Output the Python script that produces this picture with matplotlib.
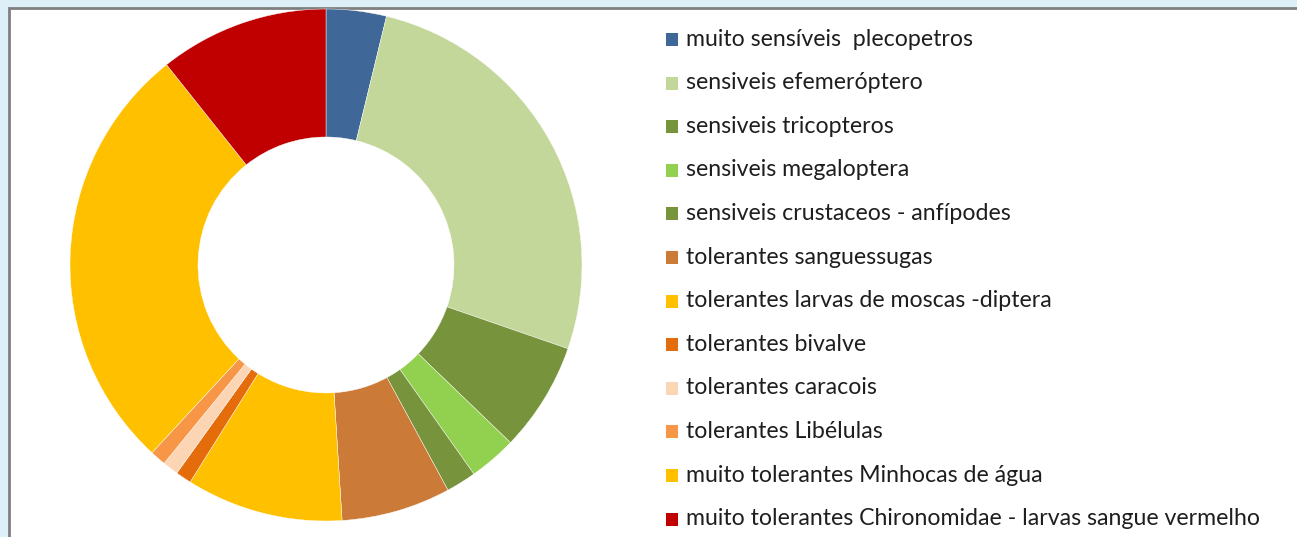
import matplotlib
matplotlib.use("Agg")
import matplotlib.pyplot as plt
from matplotlib.patches import Rectangle

labels = [
    "muito sensíveis  plecopetros",
    "sensiveis efemeróptero",
    "sensiveis tricopteros",
    "sensiveis megaloptera",
    "sensiveis crustaceos - anfípodes",
    "tolerantes sanguessugas",
    "tolerantes larvas de moscas -diptera",
    "tolerantes bivalve",
    "tolerantes caracois",
    "tolerantes Libélulas",
    "muito tolerantes Minhocas de água",
    "muito tolerantes Chironomidae - larvas sangue vermelho",
]
# share of each group (%)
values = [3.8, 26.5, 6.9, 3.0, 1.9, 6.9, 9.9, 1.0, 1.0, 1.0, 27.4, 10.7]
colors = [
    "#3F6899", "#C4D79B", "#77933C", "#92D050", "#77933C", "#CC7A38",
    "#FFC000", "#E46C0A", "#FCD5B5", "#F79646", "#FFC000", "#C00000",
]

W, H = 1297, 537
fig = plt.figure(figsize=(W / 100, H / 100), dpi=100)
fig.patch.set_facecolor("#DDEFF7")

# white chart area with grey frame
fig.patches.append(Rectangle((9 / W, -0.1), 1.2, (H - 8) / H + 0.1,
                             transform=fig.transFigure, facecolor="white",
                             edgecolor="#7F7F7F", linewidth=2, zorder=-5))

cx, cy, R = 326, 265, 256
ax = fig.add_axes([(cx - R) / W, (H - cy - R) / H, 2 * R / W, 2 * R / H])
ax.set_zorder(2)
ax.patch.set_visible(False)
ax.pie(values, colors=colors, startangle=90, counterclock=False, radius=1,
       wedgeprops=dict(width=0.5, edgecolor="#FFFFFF", linewidth=0.3))
ax.set_xlim(-1, 1)
ax.set_ylim(-1, 1)
ax.set_aspect("equal")
ax.axis("off")

# legend
y0, dy = 39, 43.6
for i, (lab, col) in enumerate(zip(labels, colors)):
    y = y0 + i * dy
    fig.patches.append(Rectangle((666 / W, (H - y - 7) / H), 12 / W, 13 / H,
                                 transform=fig.transFigure, facecolor=col,
                                 edgecolor="none", zorder=3))
    fig.text(686 / W, (H - y) / H, lab, fontsize=16.7, family="Lato",
             color="#1E1E1E", va="center", ha="left", zorder=3)

fig.savefig("out.png", dpi=100, facecolor=fig.get_facecolor())
